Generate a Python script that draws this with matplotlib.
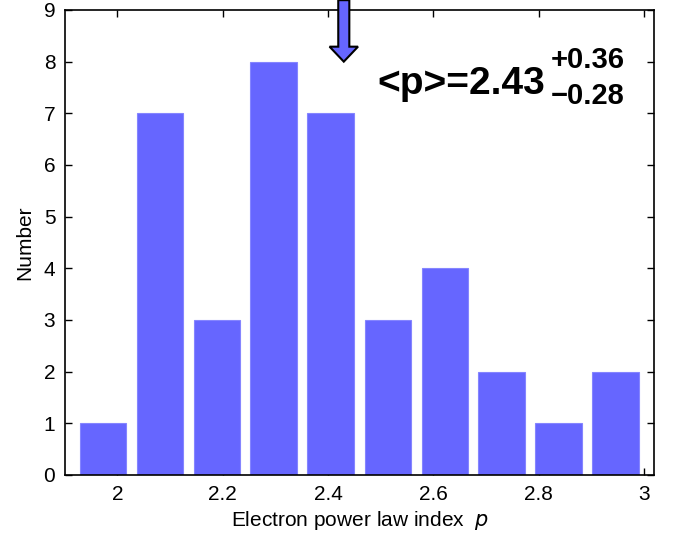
import matplotlib
matplotlib.use("Agg")
import matplotlib.pyplot as plt
from matplotlib.patches import FancyArrow

plt.rcParams['font.family'] = ['Liberation Sans', 'DejaVu Sans']

# histogram of electron power-law index p
bin_centers = [1.973, 2.081, 2.189, 2.297, 2.405, 2.514, 2.622, 2.730, 2.838, 2.946]
counts = [1, 7, 3, 8, 7, 3, 4, 2, 1, 2]
bar_width = 0.0885

p_mean = 2.43
p_err_up = 0.36
p_err_lo = 0.28

x_ticks = [2, 2.2, 2.4, 2.6, 2.8, 3]
x_ticklabels = ['2', '2.2', '2.4', '2.6', '2.8', '3']
y_ticks = list(range(0, 10))

fig = plt.figure(figsize=(6.8, 5.37), dpi=100)
ax = fig.add_axes([0.0956, 0.1155, 0.8662, 0.8659])

ax.bar(bin_centers, counts, width=bar_width, color='#6666ff',
       edgecolor='#8585ff', linewidth=0.8, zorder=2)

ax.set_xlim(1.9007, 3.019)
ax.set_ylim(0, 9)
ax.set_xticks(x_ticks)
ax.set_xticklabels(x_ticklabels)
ax.set_yticks(y_ticks)
ax.tick_params(direction='in', top=True, right=True, length=5, width=1,
               labelsize=15, pad=7)
for s in ax.spines.values():
    s.set_linewidth(1.2)

ax.set_xlabel('Electron power law index  $\\it{p}$', fontsize=15, labelpad=4)
ax.set_ylabel('Number', fontsize=15, labelpad=7)

# arrow marking the mean value
arr = FancyArrow(p_mean, 9.19, 0, -1.19, width=0.021, head_width=0.054,
                 head_length=0.29, length_includes_head=True,
                 facecolor='#6666ff', edgecolor='black', linewidth=1.5,
                 clip_on=False, zorder=5)
ax.add_patch(arr)

ax.text(2.812, 7.374, '<p>=%.2f' % p_mean, fontsize=28, fontweight='bold',
        ha='right', va='baseline')
ax.text(2.823, 7.877, '+%.2f' % p_err_up, fontsize=21, fontweight='bold',
        ha='left', va='baseline')
ax.text(2.823, 7.18, '\u2212%.2f' % p_err_lo, fontsize=21, fontweight='bold',
        ha='left', va='baseline')

plt.savefig('out.png', dpi=100)
